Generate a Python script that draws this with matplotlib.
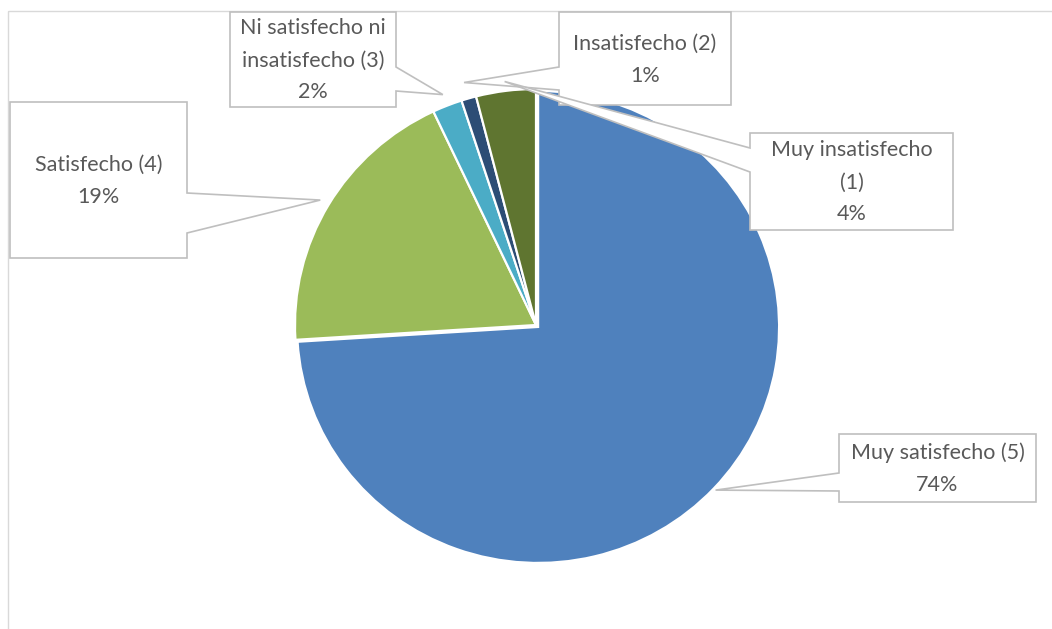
import numpy as np
import matplotlib
matplotlib.use("Agg")
import matplotlib.pyplot as plt
from matplotlib.patches import Polygon, Rectangle

# ---- data ----
categories = ["Muy satisfecho (5)", "Satisfecho (4)", "Ni satisfecho ni\ninsatisfecho (3)",
              "Insatisfecho (2)", "Muy insatisfecho\n(1)"]
values = [74, 19, 2, 1, 4]
colors = ["#4F81BD", "#9BBB59", "#4BACC6", "#2C4D75", "#5F7530"]

W, H = 1052, 629
fig = plt.figure(figsize=(W / 100, H / 100), dpi=100)
fig.patch.set_facecolor("white")

# pie geometry (pixels)
cx, cy, rx, ry = 536, 325, 241, 236
pax = fig.add_axes([(cx - rx) / W, (H - (cy + ry)) / H, 2 * rx / W, 2 * ry / H])
total = sum(values)
wedges, _ = pax.pie(values, colors=colors, startangle=90, counterclock=False,
                    explode=[0.012, 0, 0, 0, 0],
                    wedgeprops=dict(edgecolor="white", linewidth=1.6))
pax.set_aspect("auto")
pax.set_xlim(-1, 1)
pax.set_ylim(-1, 1)
pax.axis("off")
for w in wedges:
    w.set_clip_on(False)

# overlay in pixel coordinates (y down)
ov = fig.add_axes([0, 0, 1, 1], zorder=5)
ov.set_xlim(0, W)
ov.set_ylim(H, 0)
ov.axis("off")
ov.patch.set_alpha(0)

# chart frame
ov.add_patch(Rectangle((7.5, 10.5), W + 20, H + 20, fill=False, edgecolor="#D9D9D9",
                       linewidth=1.0, clip_on=True))

def tip_of(i, r):
    w = wedges[i]
    th = np.deg2rad((w.theta1 + w.theta2) / 2)
    cxw, cyw = w.center
    p = pax.transData.transform((cxw + r * np.cos(th), cyw + r * np.sin(th)))
    return ov.transData.inverted().transform(p)

# callout layout: box (x0, y0, x1, y1), pointer side, pointer y-range, tip radius
layout = [
    dict(box=(839, 434, 1036, 502), side="left", pa=(473, 491), r=1.01),
    dict(box=(10, 102, 187, 258), side="right", pa=(193, 233), r=1.04),
    dict(box=(230, 12, 396, 107), side="right", pa=(67, 91), r=1.05),
    dict(box=(559, 12, 731, 105), side="left", pa=(67, 90), r=1.07),
    dict(box=(750, 133, 953, 230), side="left", pa=(148, 172), r=1.04),
]

for i in range(len(values)):
    L = layout[i]
    x0, y0, x1, y1 = L["box"]
    ya, yb = L["pa"]
    tx, ty = tip_of(i, L["r"])
    if L["side"] == "left":
        verts = [(x0, y0), (x1, y0), (x1, y1), (x0, y1), (x0, yb), (tx, ty), (x0, ya)]
    else:
        verts = [(x0, y0), (x1, y0), (x1, ya), (tx, ty), (x1, yb), (x1, y1), (x0, y1)]
    ov.add_patch(Polygon(verts, closed=True, facecolor="white", edgecolor="#BFBFBF",
                         linewidth=1.2, joinstyle="miter", zorder=2 + i))
    pct = f"{values[i] / total * 100:.0f}%"
    ov.text((x0 + x1) / 2, (y0 + y1) / 2 + 1, categories[i] + "\n" + pct,
            ha="center", va="center", multialignment="center",
            fontsize=15.5, family=["Lato", "DejaVu Sans"], color="#595959",
            linespacing=1.75, zorder=2 + i + 0.5)

fig.savefig("out.png", dpi=100, facecolor="white")
